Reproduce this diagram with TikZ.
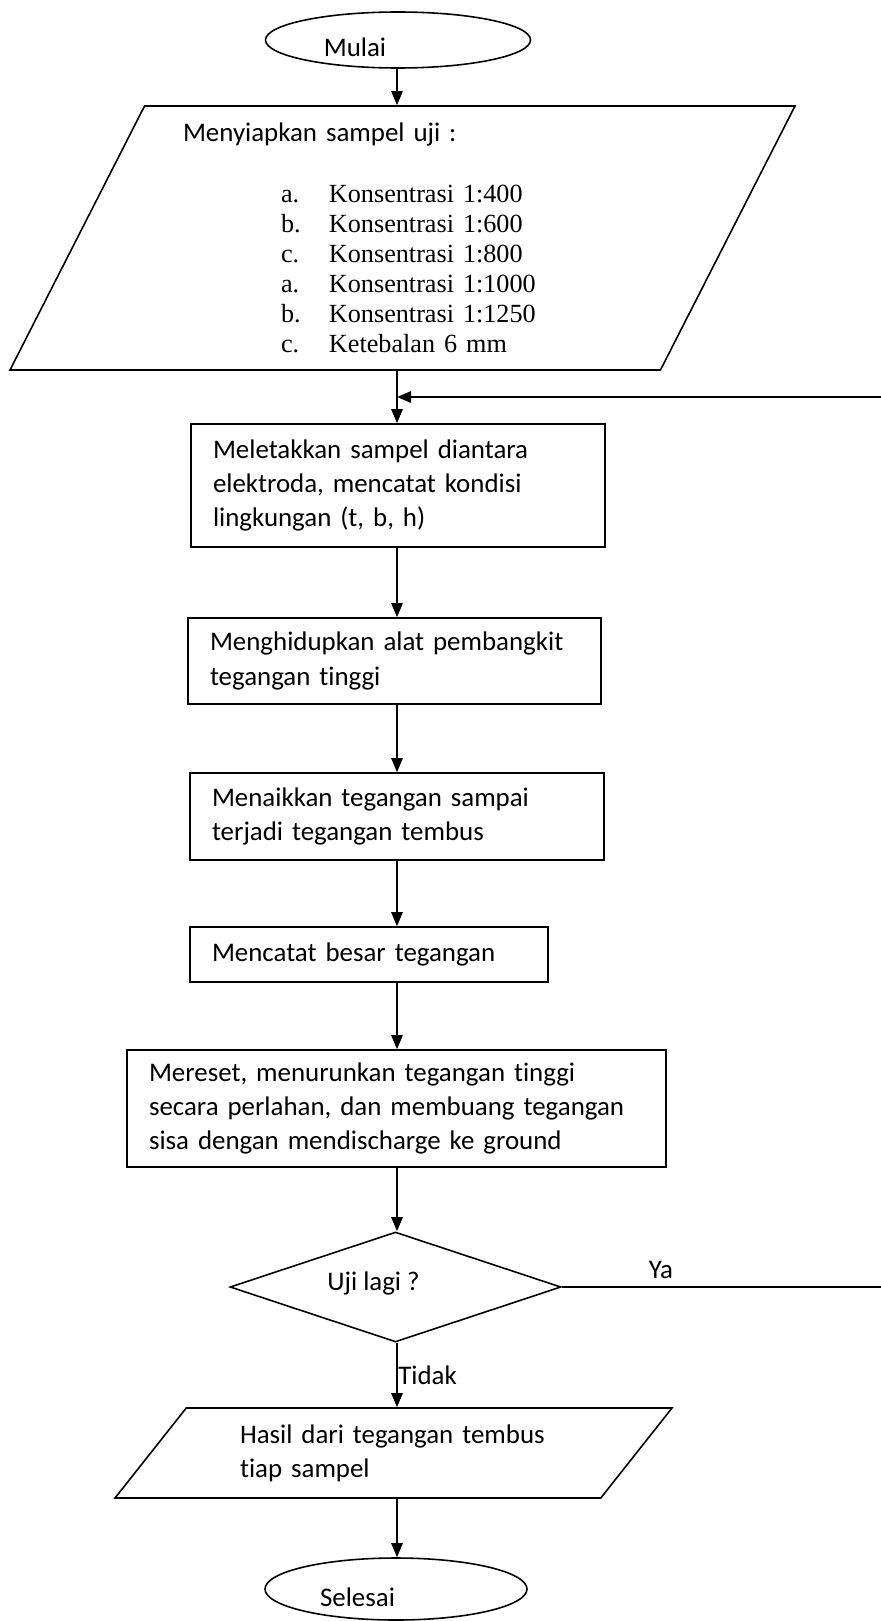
\documentclass[tikz,border=0pt]{standalone}
\usepackage{fontspec}
\setmainfont{Liberation Serif}
\setsansfont{Carlito}[Ligatures=NoCommon]
\usetikzlibrary{arrows.meta,shapes.geometric}

\newcommand{\concfont}{\rmfamily\fontsize{14.9}{17.1}\selectfont}
\newcommand{\concitem}[2]{\hspace*{1.96cm}\makebox[0.96cm][l]{#1}#2}

\begin{document}
\begin{tikzpicture}[x=1cm,y=1cm]
\tikzset{
  flowtext/.style={font=\sffamily\fontsize{15.3}{19.5}\selectfont},
  terminal/.style={ellipse,draw,line width=0.9pt,inner sep=0pt,flowtext},
  inputbox/.style={trapezium,draw,line width=0.9pt,trapezium stretches body,inner sep=0pt,align=left,flowtext},
  processbox/.style={rectangle,draw,line width=0.9pt,inner xsep=0.44cm,inner ysep=0pt,align=left,flowtext},
  decision/.style={diamond,draw,line width=0.9pt,inner sep=0pt,flowtext},
  flowlabel/.style={inner sep=0pt,flowtext},
  flowarrow/.style={-{Triangle[length=8pt,width=6.5pt]},line width=0.9pt}
}
\useasboundingbox (0,0) rectangle (17.62,-32.42);
\coordinate (spine) at (7.94,0);
\coordinate (loopturn) at (17.80,-7.94);
\node[terminal,minimum width=5.30cm,minimum height=1.12cm,
  label={[flowlabel,xshift=-0.86cm,yshift=-0.14cm]center:Mulai}] (mulai) at (7.96,-0.80) {};
\node[inputbox,text width=8.78cm,minimum width=15.70cm,minimum height=5.28cm,
  trapezium left angle=59.6,trapezium right angle=120.4] (prep) at (8.05,-4.76) {%
  Menyiapkan sampel uji :\par\vspace{0.6cm}\concfont
  \concitem{a.}{Konsentrasi 1:400}\\
  \concitem{b.}{Konsentrasi 1:600}\\
  \concitem{c.}{Konsentrasi 1:800}\\
  \concitem{a.}{Konsentrasi 1:1000}\\
  \concitem{b.}{Konsentrasi 1:1250}\\
  \concitem{c.}{Ketebalan 6 mm}\par};
\node[processbox,text width=7.40cm,minimum width=8.28cm,minimum height=2.46cm] (place) at (7.96,-9.71)
  {Meletakkan sampel diantara\\elektroda, mencatat kondisi\\lingkungan (t, b, h)};
\node[processbox,text width=7.38cm,minimum width=8.26cm,minimum height=1.72cm] (switchon) at (7.89,-13.22)
  {Menghidupkan alat pembangkit\\tegangan tinggi};
\node[processbox,text width=7.40cm,minimum width=8.28cm,minimum height=1.74cm] (raise) at (7.94,-16.33)
  {Menaikkan tegangan sampai\\terjadi tegangan tembus};
\node[processbox,text width=6.28cm,minimum width=7.16cm,minimum height=1.10cm] (record) at (7.38,-19.09)
  {Mencatat besar tegangan};
\node[processbox,text width=9.90cm,minimum width=10.78cm,minimum height=2.34cm] (reset) at (7.93,-22.17)
  {Mereset, menurunkan tegangan tinggi\\secara perlahan, dan membuang tegangan\\sisa dengan mendischarge ke ground};
\node[decision,minimum width=6.62cm,minimum height=2.20cm,
  label={[flowlabel,xshift=-0.44cm,yshift=0.08cm]center:Uji lagi ?}] (check) at (7.91,-25.74) {};
\node[inputbox,text width=6.14cm,minimum width=11.14cm,minimum height=1.80cm,
  trapezium left angle=38.8,trapezium right angle=141.2] (result) at (7.87,-29.06)
  {Hasil dari tegangan tembus\\tiap sampel};
\node[terminal,minimum width=5.24cm,minimum height=1.24cm,
  label={[flowlabel,xshift=-0.77cm,yshift=-0.16cm]center:Selesai}] (selesai) at (7.92,-31.78) {};
\node[flowlabel] (ya) at (13.22,-25.40) {Ya};
\node[flowlabel,anchor=west] (tidak) at (7.96,-27.50) {Tidak};
\draw[flowarrow] (mulai.south -| spine) -- (prep.north -| spine);
\draw[flowarrow] (prep.south -| spine) -- (place.north -| spine);
\draw[flowarrow] (place.south -| spine) -- (switchon.north -| spine);
\draw[flowarrow] (switchon.south -| spine) -- (raise.north -| spine);
\draw[flowarrow] (raise.south -| spine) -- (record.north -| spine);
\draw[flowarrow] (record.south -| spine) -- (reset.north -| spine);
\draw[flowarrow] (reset.south -| spine) -- (check.north -| spine);
\draw[flowarrow] (check.south -| spine) -- (result.north -| spine);
\draw[flowarrow] (result.south -| spine) -- (selesai.north -| spine);
\draw[flowarrow] (check.east) -| (loopturn) -- (loopturn -| spine);
\end{tikzpicture}
\end{document}
